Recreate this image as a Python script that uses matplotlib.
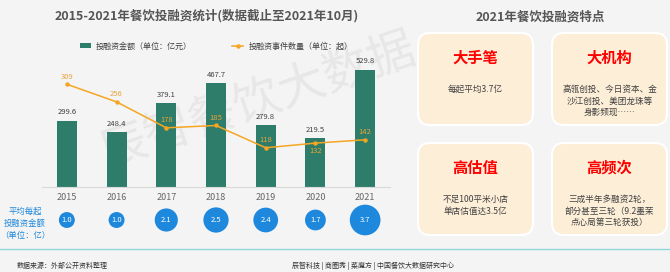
import matplotlib
matplotlib.use("Agg")
import matplotlib.pyplot as plt
from matplotlib.patches import FancyBboxPatch, Patch
from matplotlib.lines import Line2D

plt.rcParams['font.family'] = ['Noto Sans CJK SC', 'DejaVu Sans']

# data
years = ['2015', '2016', '2017', '2018', '2019', '2020', '2021']
amount = [299.6, 248.4, 379.1, 467.7, 279.8, 219.5, 529.8]      # 亿元
deals = [309, 256, 178, 185, 118, 132, 142]                      # 起
avg_per_deal = [1.0, 1.0, 2.1, 2.5, 2.4, 1.7, 3.7]               # 亿
deal_label_below = [False, False, False, False, False, True, False]

feature_titles = ['大手笔', '大机构', '高估值', '高频次']
feature_texts = ['每起平均3.7亿',
                 '高瓴创投、今日资本、金\n沙江创投、美团龙珠等\n身影频现……',
                 '不足100平米小店\n单店估值达3.5亿',
                 '三成半年多融资2轮，\n部分甚至三轮（9.2墨茉\n点心局第三轮获投）']

GREEN = '#2E7D6B'
ORANGE = '#F5A623'
BLUE = '#1E88DC'
W, H = 670, 272

fig = plt.figure(figsize=(6.7, 2.72), dpi=100)
fig.patch.set_facecolor('#F4F4F4')

# background / overlay axes in pixel coordinates
bg = fig.add_axes([0, 0, 1, 1])
bg.set_xlim(0, W)
bg.set_ylim(H, 0)
bg.axis('off')
bg.patch.set_alpha(0)

bg.text(258, 102, '辰智餐饮大数据', fontsize=34, color='#E7E7E7', rotation=19,
        ha='center', va='center', zorder=0)

bg.text(207, 16, '2015-2021年餐饮投融资统计(数据截止至2021年10月)', fontsize=9,
        fontweight='bold', color='#555555', ha='center', va='center')
bg.text(540, 17, '2021年餐饮投融资特点', fontsize=9, fontweight='bold',
        color='#555555', ha='center', va='center')

# feature boxes
box_x = [418, 552, 418, 552]
box_y = [33, 33, 143, 143]
bw, bh = 115, 92
for i in range(4):
    bg.add_patch(FancyBboxPatch((box_x[i], box_y[i]), bw, bh,
                                boxstyle='round,pad=0,rounding_size=12',
                                facecolor='#FDEED8', edgecolor='white', lw=1.5))
    bg.text(box_x[i] + bw / 2, box_y[i] + 25, feature_titles[i], fontsize=11,
            fontweight='bold', color='#FF0000', ha='center', va='center')
    bg.text(box_x[i] + bw / 2, box_y[i] + 52, feature_texts[i], fontsize=6.2,
            color='#404040', ha='center', va='top', linespacing=1.35)

# left label for bubble row
bg.text(25, 223, '平均每起\n投融资金额\n（单位：亿）', fontsize=6, color=BLUE,
        ha='center', va='center', linespacing=1.45)

# separator + footer
bg.plot([0, W], [249, 249], color='#8ED6DA', lw=1)
bg.text(17, 266, '数据来源：外部公开资料整理', fontsize=5, color='#333333',
        ha='left', va='center')
bg.text(292, 266, '辰智科技 | 商圈秀 | 菜魔方 | 中国餐饮大数据研究中心', fontsize=5,
        color='#333333', ha='left', va='center')

# main chart
ax = fig.add_axes([42 / W, (H - 187) / H, 348 / W, 133 / H])
ax.patch.set_alpha(0)
x = list(range(len(years)))
bars = ax.bar(x, amount, width=0.4, color=GREEN, zorder=2)
ax.set_xlim(-0.5, 6.5)
ax.set_ylim(0, 600)
for xi, v in zip(x, amount):
    ax.annotate(f'{v:.1f}', (xi, v), xytext=(0, 3), textcoords='offset points',
                ha='center', va='bottom', fontsize=5.5, color='#404040')
ax.set_xticks(x)
ax.set_xticklabels(years, fontsize=6.5, color='#666666')
ax.tick_params(axis='x', length=0, pad=4)
ax.set_yticks([])
for s in ['top', 'left', 'right']:
    ax.spines[s].set_visible(False)
ax.spines['bottom'].set_color('#D9D9D9')

ax2 = ax.twinx()
ax2.set_ylim(0, 400)
ax2.plot(x, deals, color=ORANGE, lw=1.1, marker='o', markersize=2.2, zorder=3)
for xi, v, below in zip(x, deals, deal_label_below):
    ax2.annotate(str(v), (xi, v), xytext=(0, -5.5 if below else 5.5),
                 textcoords='offset points', ha='center', va='center',
                 fontsize=5.5, color='#E8A33A')
ax2.set_yticks([])
for s in ax2.spines.values():
    s.set_visible(False)

handles = [Patch(facecolor=GREEN, label='投融资金额（单位：亿元）'),
           Line2D([0], [0], color=ORANGE, lw=1.1, marker='o', markersize=2.2,
                  label='投融资事件数量（单位：起）')]
fig.legend(handles=handles, loc='center', bbox_to_anchor=(216 / W, 1 - 46 / H),
           ncol=2, frameon=False, fontsize=5.8, columnspacing=5,
           handlelength=1.4, handleheight=0.6, handletextpad=0.6,
           labelcolor='#404040')

# bubble row
axc = fig.add_axes([42 / W, (H - 240) / H, 348 / W, 40 / H])
axc.set_xlim(-0.5, 6.5)
axc.set_ylim(0, 1)
axc.axis('off')
axc.scatter(x, [0.5] * len(x), s=[132 * v for v in avg_per_deal], color=BLUE,
            edgecolors='none')
for xi, v in zip(x, avg_per_deal):
    axc.text(xi, 0.5, f'{v:.1f}', fontsize=5.5, color='white', ha='center',
             va='center')

fig.savefig('out.png', dpi=100, facecolor=fig.get_facecolor())
